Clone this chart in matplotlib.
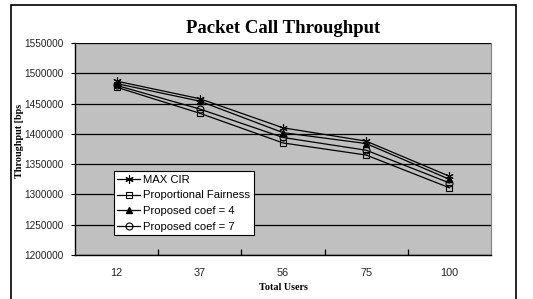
import matplotlib
matplotlib.use('Agg')
import matplotlib.pyplot as plt
from matplotlib.patches import Rectangle
from matplotlib.ticker import FormatStrFormatter

users = ['12', '37', '56', '75', '100']
max_cir = [1487000, 1458000, 1410000, 1388000, 1330000]
prop_fair = [1477000, 1434000, 1385000, 1365000, 1311000]
coef4 = [1483000, 1454000, 1402000, 1384000, 1325000]
coef7 = [1480000, 1441000, 1394000, 1373000, 1319000]

W, H = 533, 299
fig = plt.figure(figsize=(W / 100, H / 100), dpi=100)
fig.patch.set_facecolor('white')

# outer frame of the picture
fig.patches.append(Rectangle((11 / W, -0.1), (516 - 11) / W, 1.1 - 5 / H,
                             transform=fig.transFigure, fill=False,
                             edgecolor='black', linewidth=1.2))

ax = fig.add_axes([75 / W, (H - 255) / H, 416 / W, 212 / H])
ax.set_facecolor('#c0c0c0')

x = range(len(users))
ax.plot(x, max_cir, '-', color='black', lw=0.9, marker=(6, 2, 0), ms=6,
        mew=0.8, label='MAX CIR')
ax.plot(x, prop_fair, '-', color='black', lw=0.9, marker='s', ms=5,
        mfc='none', mew=0.8, label='Proportional Fairness')
ax.plot(x, coef4, '-', color='black', lw=0.9, marker='^', ms=5,
        mfc='black', label='Proposed coef = 4')
ax.plot(x, coef7, '-', color='black', lw=0.9, marker='o', ms=5,
        mfc='none', mew=0.8, label='Proposed coef = 7')

ax.set_ylim(1200000, 1550000)
ax.set_xlim(-0.5, len(users) - 0.5)
ax.set_yticks(range(1200000, 1550001, 50000))
ax.yaxis.set_major_formatter(FormatStrFormatter('%d'))
ax.yaxis.grid(True, color='black', linewidth=0.9)
ax.set_axisbelow(True)

ax.set_xticks(list(x))
ax.set_xticklabels(users)
ax.set_xticks([i + 0.5 for i in range(len(users) - 1)], minor=True)
ax.tick_params(axis='x', which='major', length=0, pad=9, labelsize=7.8)
ax.tick_params(axis='x', which='minor', length=4, direction='in', width=0.9)
ax.tick_params(axis='y', length=3, direction='out', labelsize=7.2, pad=5)
for lab in ax.get_xticklabels() + ax.get_yticklabels():
    lab.set_family('Liberation Sans')
    lab.set_color('#222222')

ax.spines['top'].set_visible(False)
ax.spines['right'].set_color('#808080')
ax.spines['left'].set_linewidth(1.0)
ax.spines['bottom'].set_linewidth(1.0)

ax.set_title('Packet Call Throughput', family='Liberation Serif',
             fontweight='bold', fontsize=13.5, pad=7)
ax.set_xlabel('Total Users', family='Liberation Serif', fontweight='bold',
              fontsize=7.3, labelpad=4)
ax.set_ylabel('Throughput [bps', family='Liberation Serif', fontweight='bold',
              fontsize=7.3)
ax.yaxis.set_label_coords(-0.122, 0.54)

leg = ax.legend(loc='lower left', bbox_to_anchor=(0.094, 0.094),
                prop={'family': 'Liberation Sans', 'size': 8.1},
                fancybox=False, framealpha=1, edgecolor='black',
                borderpad=0.3, labelspacing=0.5, handlelength=2.0,
                handletextpad=0.3, borderaxespad=0)
leg.get_frame().set_linewidth(0.8)

fig.savefig('out.png', dpi=100)
